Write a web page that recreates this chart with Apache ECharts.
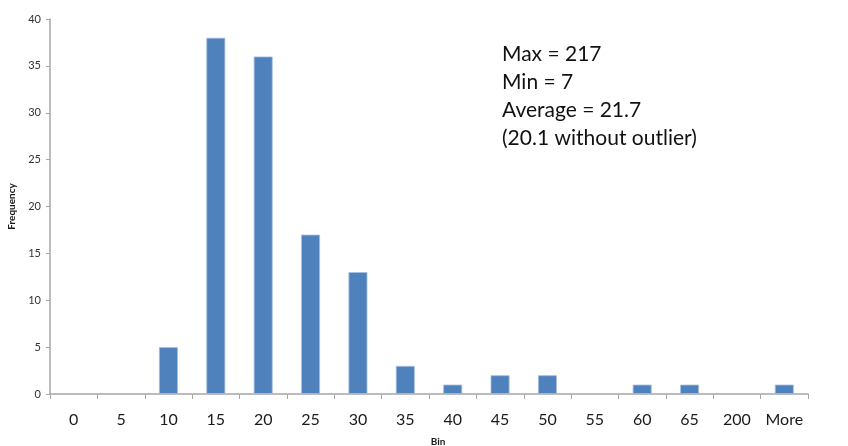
<!DOCTYPE html>
<html>
<head>
<meta charset="utf-8">
<script src="https://cdn.jsdelivr.net/npm/echarts@6/dist/echarts.min.js"></script>
<style>
  html, body { margin: 0; padding: 0; background: #ffffff; }
  #chart { width: 848px; height: 446px; }
</style>
</head>
<body>
<div id="chart"></div>
<script>
// Histogram bins and the count in each bin
const bins = ['0', '5', '10', '15', '20', '25', '30', '35', '40', '45', '50', '55', '60', '65', '200', 'More'];
const frequency = [0, 0, 5, 38, 36, 17, 13, 3, 1, 2, 2, 0, 1, 1, 0, 1];
const yTicks = { min: 0, max: 40, interval: 5 };
const summaryLines = ['Max = 217', 'Min = 7', 'Average = 21.7', '(20.1 without outlier)'];

const chart = echarts.init(document.getElementById('chart'), null, { renderer: 'canvas' });

chart.setOption({
  animation: false,
  backgroundColor: '#ffffff',
  textStyle: { fontFamily: 'Lato, "Open Sans", sans-serif' },
  grid: { left: 50, right: 40, top: 19, bottom: 52, containLabel: false, outerBoundsMode: 'none' },
  xAxis: {
    type: 'category',
    data: bins,
    axisLine: { lineStyle: { color: '#a6a6a6', width: 1.5 } },
    axisTick: { show: true, length: 5, interval: 0, alignWithLabel: false, lineStyle: { color: '#a6a6a6' } },
    axisLabel: { color: '#1a1a1a', fontSize: 16, margin: 18, interval: 0, hideOverlap: false, fontFamily: 'Lato, sans-serif' },
    name: 'Bin',
    nameLocation: 'middle',
    nameGap: 43,
    nameTextStyle: { fontSize: 10, fontWeight: 'bold', color: '#1a1a1a', padding: [0, 0, 0, 18], fontFamily: 'Lato, sans-serif' }
  },
  yAxis: {
    type: 'value',
    min: yTicks.min,
    max: yTicks.max,
    interval: yTicks.interval,
    splitLine: { show: false },
    axisLine: { show: true, lineStyle: { color: '#a6a6a6', width: 1.5 } },
    axisTick: { show: true, length: 4, lineStyle: { color: '#a6a6a6' } },
    axisLabel: { color: '#333333', fontSize: 11, margin: 9, fontFamily: 'Lato, sans-serif' },
    name: 'Frequency',
    nameLocation: 'middle',
    nameRotate: 90,
    nameGap: 33,
    nameTextStyle: { fontSize: 10, fontWeight: 'bold', color: '#1a1a1a', fontFamily: 'Lato, sans-serif' }
  },
  series: [{
    type: 'bar',
    // empty bins are hidden so no border line is drawn for them
    data: frequency.map(v => (v === 0 ? { value: 0, itemStyle: { borderWidth: 0, opacity: 0 } } : v)),
    barWidth: '40%',
    itemStyle: { color: '#4f81bd', borderColor: '#a7c0e0', borderWidth: 0.8 }
  }],
  graphic: [{
    type: 'text',
    left: 502,
    top: 40,
    style: {
      text: summaryLines.join('\n'),
      fontSize: 21,
      lineHeight: 28,
      fill: '#111111',
      fontFamily: 'Lato, sans-serif'
    }
  }]
});
</script>
</body>
</html>
